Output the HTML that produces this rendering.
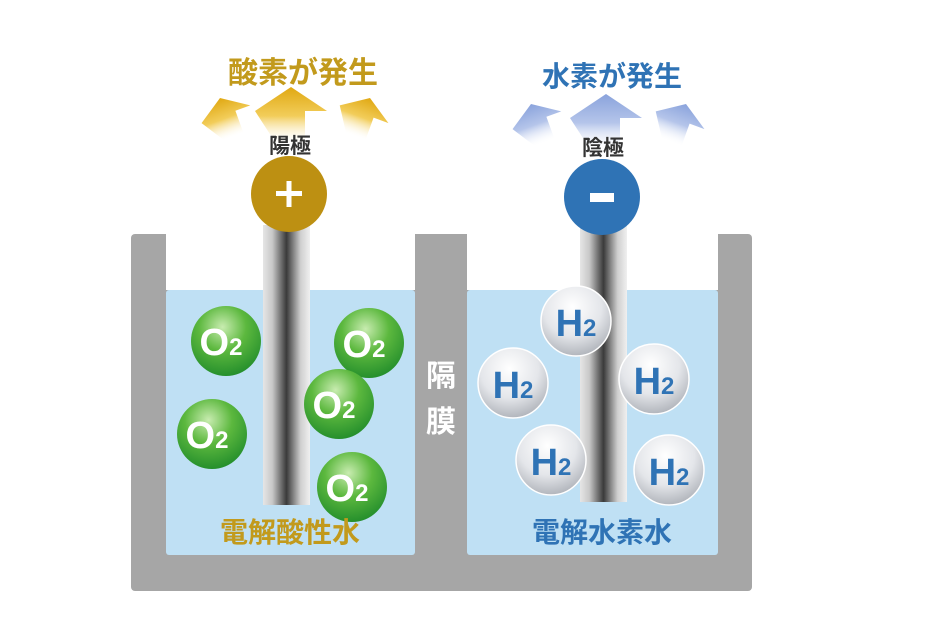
<!DOCTYPE html>
<html><head><meta charset="utf-8"><style>
html,body{margin:0;padding:0;background:#fff;width:940px;height:624px;overflow:hidden}
text{font-family:"Liberation Sans","Noto Sans CJK JP",sans-serif}
</style></head><body>
<svg width="940" height="624" viewBox="0 0 940 624" xmlns="http://www.w3.org/2000/svg">
<defs>
<linearGradient id="rod" x1="0" x2="1" y1="0" y2="0">
<stop offset="0" stop-color="#e6e6e6"/><stop offset="0.2" stop-color="#c8c8c8"/><stop offset="0.5" stop-color="#3a3a3a"/><stop offset="0.8" stop-color="#cfcfcf"/><stop offset="1" stop-color="#f0f0f0"/></linearGradient>
<linearGradient id="ga" gradientUnits="userSpaceOnUse" x1="0" x2="0" y1="0" y2="58"><stop offset="0" stop-color="#e0a812"/><stop offset="0.5" stop-color="#f2cd5a"/><stop offset="1" stop-color="#fff" stop-opacity="0"/></linearGradient>
<linearGradient id="ba" gradientUnits="userSpaceOnUse" x1="0" x2="0" y1="0" y2="58"><stop offset="0" stop-color="#8aa3dc"/><stop offset="0.5" stop-color="#b5c5ea"/><stop offset="1" stop-color="#fff" stop-opacity="0"/></linearGradient>
<radialGradient id="og" cx="0.45" cy="0.3" r="0.75"><stop offset="0" stop-color="#c8ecb0"/><stop offset="0.45" stop-color="#5cb83e"/><stop offset="1" stop-color="#1e8a2a"/></radialGradient>
<radialGradient id="hg" cx="0.45" cy="0.3" r="0.75"><stop offset="0" stop-color="#ffffff"/><stop offset="0.55" stop-color="#e4e6ea"/><stop offset="1" stop-color="#a9adb4"/></radialGradient>
<path id="arrg" d="M-36 24 L0 0 L36 24 L14 24 L14 58 L-14 58 Z" fill="url(#ga)"/>
<path id="arrb" d="M-36 24 L0 0 L36 24 L14 24 L14 58 L-14 58 Z" fill="url(#ba)"/>
</defs>
<rect x="131" y="234" width="621" height="357" rx="4" fill="#a6a6a6"/>
<rect x="166" y="234" width="249" height="56" fill="#fff"/>
<rect x="467" y="234" width="251" height="56" fill="#fff"/>
<rect x="166" y="290" width="249" height="265" rx="3" fill="#bfe0f4"/>
<rect x="467" y="290" width="251" height="265" rx="3" fill="#bfe0f4"/>
<text x="441" y="386" font-size="30" font-weight="bold" fill="#fff" text-anchor="middle">隔</text>
<text x="441" y="432" font-size="30" font-weight="bold" fill="#fff" text-anchor="middle">膜</text>
<rect x="263" y="225" width="47" height="280" fill="url(#rod)"/>
<rect x="580" y="225" width="47" height="277" fill="url(#rod)"/>
<use href="#arrg" transform="translate(291,87)"/>
<use href="#arrg" transform="translate(220,98) rotate(-20) scale(0.72)"/>
<use href="#arrg" transform="translate(370,98) rotate(20) scale(0.72)"/>
<use href="#arrb" transform="translate(606,94)"/>
<use href="#arrb" transform="translate(531,104) rotate(-20) scale(0.72)"/>
<use href="#arrb" transform="translate(686,104) rotate(20) scale(0.72)"/>
<text x="303" y="83" font-size="30" font-weight="bold" fill="#c29a1c" text-anchor="middle">酸素が発生</text>
<text x="612" y="86" font-size="28" font-weight="bold" fill="#2f73b5" text-anchor="middle">水素が発生</text>
<text x="290" y="153" font-size="21" font-weight="bold" fill="#333" text-anchor="middle">陽極</text>
<text x="603" y="155" font-size="21" font-weight="bold" fill="#333" text-anchor="middle">陰極</text>
<circle cx="289" cy="194" r="38" fill="#bd9012"/>
<rect x="276" y="191" width="26" height="5" fill="#fff"/><rect x="286.5" y="181" width="5" height="26" fill="#fff"/>
<circle cx="602" cy="197" r="38" fill="#2f73b5"/>
<rect x="590" y="193" width="24" height="9" fill="#fff"/>
<g font-size="38" font-weight="bold" fill="#fff" text-anchor="middle">
<g><circle cx="226" cy="341" r="35" fill="url(#og)"/><text x="221" y="355">O<tspan font-size="24">2</tspan></text></g>
<g><circle cx="369" cy="343" r="35" fill="url(#og)"/><text x="364" y="357">O<tspan font-size="24">2</tspan></text></g>
<g><circle cx="339" cy="404" r="35" fill="url(#og)"/><text x="334" y="418">O<tspan font-size="24">2</tspan></text></g>
<g><circle cx="212" cy="434" r="35" fill="url(#og)"/><text x="207" y="448">O<tspan font-size="24">2</tspan></text></g>
<g><circle cx="352" cy="487" r="35" fill="url(#og)"/><text x="347" y="501">O<tspan font-size="24">2</tspan></text></g>
</g>
<g font-size="38" font-weight="bold" fill="#2f73b5" text-anchor="middle">
<g><circle cx="576" cy="321" r="35" fill="url(#hg)" stroke="#fff" stroke-width="1.5"/><text x="576" y="336">H<tspan font-size="24">2</tspan></text></g>
<g><circle cx="513" cy="383" r="35" fill="url(#hg)" stroke="#fff" stroke-width="1.5"/><text x="513" y="398">H<tspan font-size="24">2</tspan></text></g>
<g><circle cx="654" cy="379" r="35" fill="url(#hg)" stroke="#fff" stroke-width="1.5"/><text x="654" y="394">H<tspan font-size="24">2</tspan></text></g>
<g><circle cx="551" cy="460" r="35" fill="url(#hg)" stroke="#fff" stroke-width="1.5"/><text x="551" y="475">H<tspan font-size="24">2</tspan></text></g>
<g><circle cx="669" cy="470" r="35" fill="url(#hg)" stroke="#fff" stroke-width="1.5"/><text x="669" y="485">H<tspan font-size="24">2</tspan></text></g>
</g>
<text x="290" y="542" font-size="28" font-weight="bold" fill="#c29a1c" text-anchor="middle">電解酸性水</text>
<text x="602" y="542" font-size="28" font-weight="bold" fill="#2f73b5" text-anchor="middle">電解水素水</text>
</svg>
</body></html>
